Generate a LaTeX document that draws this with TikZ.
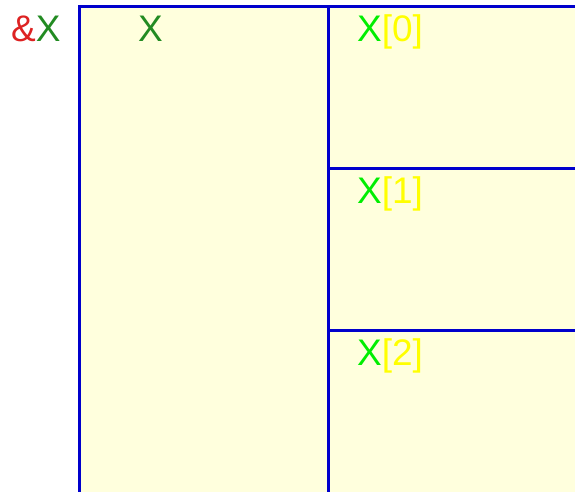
\documentclass[tikz,border=0pt]{standalone}
\usepackage{fontspec}
\setmainfont{Liberation Sans}
\definecolor{boxfill}{HTML}{FFFFDD}
\definecolor{boxline}{HTML}{0000CC}
\definecolor{ampred}{HTML}{DD2222}
\definecolor{dgreen}{HTML}{228B22}
\definecolor{lgreen}{HTML}{00EE00}
\definecolor{yel}{HTML}{FFFF00}
\begin{document}
\begin{tikzpicture}[x=1pt,y=1pt,
  cell/.style={draw=boxline,fill=boxfill,line width=3pt,rectangle,inner sep=0pt,outer sep=0pt,anchor=north west},
  lbl/.style={font=\fontsize{37}{44}\selectfont,inner sep=0pt,anchor=base west}]
\useasboundingbox (0,0) rectangle (575,-491);
\clip (0,0) rectangle (575,-491);
\node[cell,minimum width=249pt,minimum height=540pt] (big) at (79,-6) {};
\node[cell,minimum width=300pt,minimum height=162pt] (c0) at (328,-6) {};
\node[cell,minimum width=300pt,minimum height=162pt] (c1) at (328,-168) {};
\node[cell,minimum width=300pt,minimum height=200pt] (c2) at (328,-330) {};
\node[lbl] (ref) at (11,-41) {\textcolor{ampred}{\&}\textcolor{dgreen}{X}};
\node[lbl] (xname) at (138,-41) {\textcolor{dgreen}{X}};
\node[lbl] (x0) at (357,-41) {\textcolor{lgreen}{X}\textcolor{yel}{[0]}};
\node[lbl] (x1) at (357,-203) {\textcolor{lgreen}{X}\textcolor{yel}{[1]}};
\node[lbl] (x2) at (357,-365) {\textcolor{lgreen}{X}\textcolor{yel}{[2]}};
\end{tikzpicture}
\end{document}
